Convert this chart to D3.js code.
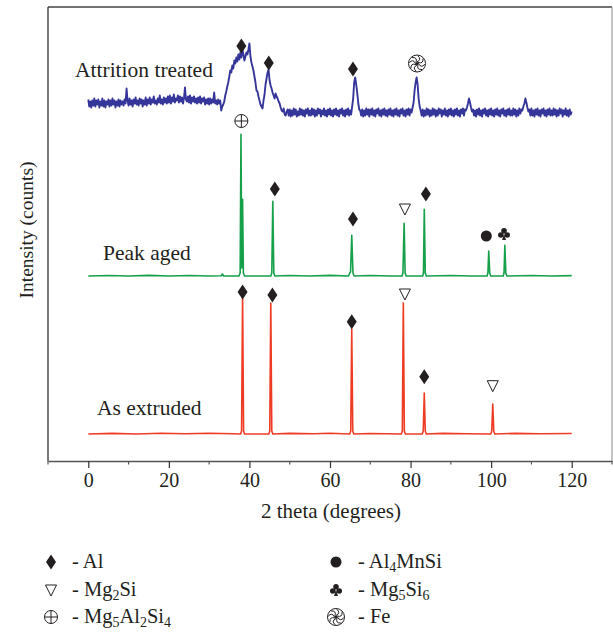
<!DOCTYPE html>
<html>
<head>
<meta charset="utf-8">
<script src="https://cdn.jsdelivr.net/npm/d3@7"></script>
<style>
  html, body { margin: 0; padding: 0; background: #fff; }
  svg { display: block; font-family: "Liberation Serif", "DejaVu Serif", serif; }
</style>
</head>
<body>
<svg id="chart" width="613" height="632"></svg>
<script>
// ---- Data -------------------------------------------------------------
// 2-theta axis ticks
const majorTicks = [0, 20, 40, 60, 80, 100, 120];
const minorTicks = [-10, 10, 30, 50, 70, 90, 110, 130];

// Vertical offsets (a.u.) of each stacked pattern
const extrudedOffset = 27;
const agedOffset = 185;
const attritionOffset = 348.5;

// As extruded pattern: [2theta, intensity above its baseline]
const extrudedPattern = [
  [0,0],[6,0.6],[12,0],[18,0.7],[24,0.2],[30,0.8],[36,0.2],
  [37.8,0],[38.05,3],[38.3,137.3],[38.55,3],[38.8,0],
  [44.8,0],[45.05,3],[45.3,131],[45.55,3],[45.8,0],
  [50,0.6],[56,0.2],[60,0.7],
  [64.9,0],[65.15,3],[65.4,105],[65.65,3],[65.9,0],
  [70,0.5],[74,0.2],
  [77.7,0],[77.95,3],[78.2,131],[78.45,3],[78.7,0],
  [82.9,0],[83.15,3],[83.4,41],[83.65,3],[83.9,0],
  [88,0.6],[94,0.2],
  [99.9,0],[100.15,3],[100.4,30],[100.65,3],[100.9,0],
  [106,0.6],[112,0.2],[120,0.5]
];

// Peak aged pattern
const agedPattern = [
  [0,0],[5,0.5],[10,0],[15,0.6],[20,0],[25,0.5],[30,0],
  [33,0.3],[33.3,2],[33.6,0],
  [37.4,0],[37.7,3],[37.9,141.7],[38.1,8],[38.3,76.7],[38.5,3],[38.8,0],
  [45.3,0],[45.55,3],[45.8,74.7],[46.05,3],[46.3,0],
  [50,0.5],[55,0],[60,0.6],
  [64.6,0],[64.9,3],[65.1,4],[65.4,40.7],[65.7,3],[66.0,0],
  [70,0.5],[75,0],
  [77.9,0],[78.1,3],[78.4,52.7],[78.65,3],[78.9,0],
  [83.0,0],[83.2,3],[83.4,66.7],[83.65,3],[83.9,0],
  [90,0.5],[95,0],
  [99.0,0],[99.2,3],[99.4,25],[99.65,3],[99.9,0],
  [103.0,0],[103.2,3],[103.4,30.7],[103.65,3],[103.9,0],
  [110,0.5],[115,0],[120,0.4]
];

// Attrition treated pattern, sampled every 0.25 degrees from 0 to 120
const attritionStart = 0;
const attritionStep = 0.25;
const attritionCounts = [
  13,6,11,5,12,7,14,6,12,8,13,5,11,7,14,6,12,5,11,8,
  13,6,12,7,14,8,12,5,11,7,13,6,12,8,11,7,13,9,24,12,
  7,14,8,12,6,13,9,15,8,12,7,14,9,13,6,12,8,15,7,13,
  9,15,8,13,10,16,9,12,8,14,10,17,9,13,8,15,10,14,9,16,
  10,17,9,15,11,18,10,14,12,17,10,16,11,15,9,14,25,13,11,16,
  10,17,9,15,11,16,10,14,9,15,10,16,9,14,11,15,8,13,9,14,
  8,14,9,13,10,20,9,12,8,13,9,12,2,6,8,11,17,21,26,30,
  36,42,40,47,44,52,49,55,51,58,53,60,55,63,58,52,56,60,58,63,
  69,56,50,46,42,36,30,22,21,16,12,8,6,4,12,18,28,34,40,43,
  32,27,24,20,17,14,19,16,14,11,9,5,2,1,4,-2,-3,1,3,-3,
  3,-4,2,-3,4,-2,3,-4,1,-3,4,-2,3,-3,2,-4,3,-1,4,-3,
  2,-3,4,-2,3,-4,2,-3,4,-1,3,-4,2,-2,4,-3,2,-4,3,-2,
  4,-3,2,-4,3,-2,4,-3,2,-4,3,-1,4,-3,2,-4,3,-2,4,-3,
  2,-2,6,14,30,35,28,20,10,3,2,-3,3,-4,2,-3,4,-2,3,-4,
  3,-2,4,-3,2,-4,3,-1,4,-3,2,-4,3,-2,4,-3,2,-4,3,-2,
  4,-3,2,-4,3,-2,4,-3,2,-4,3,-1,4,-3,2,-4,3,-2,4,-3,
  3,0,5,10,22,30,35,28,14,6,2,-3,3,-4,2,-3,4,-2,3,-4,
  2,-3,4,-2,3,-4,2,-3,4,-1,3,-4,2,-2,4,-3,2,-4,3,-2,
  4,-3,2,-4,3,-2,4,-3,2,-4,3,-1,4,-3,3,2,5,9,14,10,
  5,1,3,-3,2,-4,3,-2,4,-3,2,-4,3,-1,4,-3,2,-4,3,-2,
  4,-3,2,-4,3,-2,4,-3,2,-4,3,-1,4,-3,2,-4,3,-2,4,-3,
  2,-3,4,-2,3,-4,2,-3,4,-1,3,2,6,9,14,10,5,1,3,-3,
  4,-3,2,-4,3,-2,4,-3,2,-4,3,-1,4,-3,2,-4,3,-2,4,-3,
  2,-3,4,-2,3,-4,2,-3,4,-1,3,-4,2,-2,4,-3,2,-4,3,-2,
  1
];

// Phase markers: [2theta, absolute intensity (a.u.), phase]
const attritionMarkers = [[38.0,415,"Al"],[44.8,398,"Al"],[65.7,392,"Al"],[81.6,397.5,"Fe"]];
const agedMarkers = [[38.0,340,"Mg5Al2Si4"],[46.3,272,"Al"],[65.7,242,"Al"],[78.6,252,"Mg2Si"],
                     [83.8,267,"Al"],[98.8,225,"Al4MnSi"],[103.2,227,"Mg5Si6"]];
const extrudedMarkers = [[38.3,169,"Al"],[45.7,166,"Al"],[65.4,139.3,"Al"],[78.6,167,"Mg2Si"],
                         [83.4,84.3,"Al"],[100.4,75.3,"Mg2Si"]];

// Legend entries
const legendLeft = ["Al", "Mg2Si", "Mg5Al2Si4"];
const legendRight = ["Al4MnSi", "Mg5Si6", "Fe"];

// Series labels
const seriesNames = ["Attrition treated", "Peak aged", "As extruded"];

// ---- Drawing -----------------------------------------------------------
const svg = d3.select("#chart");
const ink = "#231f20";
const plot = { left: 48, right: 612, top: 7, bottom: 461 };

const x = d3.scaleLinear().domain([-10, 130]).range([plot.left, plot.right]);
const y = d3.scaleLinear().domain([0, 454]).range([plot.bottom, plot.top]);

// Frame
svg.append("line").attr("x1", plot.left).attr("x2", plot.right).attr("y1", plot.top).attr("y2", plot.top)
  .attr("stroke", "#444").attr("stroke-width", 1.6);
svg.append("line").attr("x1", plot.right).attr("x2", plot.right).attr("y1", plot.top).attr("y2", plot.bottom)
  .attr("stroke", "#9a9a9a").attr("stroke-width", 1.2);
svg.append("line").attr("x1", plot.left).attr("x2", plot.left).attr("y1", plot.top).attr("y2", plot.bottom)
  .attr("stroke", "#333").attr("stroke-width", 1.3);

// Bottom axis with major and minor ticks
const xAxis = d3.axisBottom(x).tickValues(majorTicks).tickSize(7).tickSizeOuter(0).tickPadding(5);
const gx = svg.append("g").attr("transform", `translate(0,${plot.bottom})`).call(xAxis);
gx.select(".domain").attr("stroke", "#555").attr("stroke-width", 1.3);
gx.selectAll(".tick line").attr("stroke", "#333").attr("stroke-width", 1.2);
gx.selectAll(".tick text").attr("font-size", 20).attr("fill", ink)
  .attr("font-family", "Liberation Serif, serif");
gx.selectAll(".minor").data(minorTicks).enter().append("line")
  .attr("x1", d => x(d)).attr("x2", d => x(d)).attr("y1", 0).attr("y2", 3.5)
  .attr("stroke", "#555").attr("stroke-width", 1.2);

// Axis titles
svg.append("text").attr("x", 331).attr("y", 518).attr("text-anchor", "middle")
  .attr("font-size", 21).attr("fill", ink).text("2 theta (degrees)");
svg.append("text").attr("transform", "translate(33,230) rotate(-90)").attr("text-anchor", "middle")
  .attr("font-size", 19.5).attr("fill", ink).text("Intensity (counts)");

// Patterns
const line = d3.line().x(d => x(d[0])).y(d => y(d[1]));
const attritionPattern = attritionCounts.map((v, i) => [attritionStart + i * attritionStep, v]);

const series = [
  { data: attritionPattern, offset: attritionOffset, color: "#36369a", width: 1.9 },
  { data: agedPattern, offset: agedOffset, color: "#16a04a", width: 1.6 },
  { data: extrudedPattern, offset: extrudedOffset, color: "#ee3b24", width: 1.6 }
];
series.forEach(s => {
  svg.append("path")
    .datum(s.data.map(d => [d[0], d[1] + s.offset]))
    .attr("d", line).attr("fill", "none")
    .attr("stroke", s.color).attr("stroke-width", s.width).attr("stroke-linejoin", "round");
});

// Series labels
const labelPos = [[75, 77], [103, 260], [97, 415]];
seriesNames.forEach((n, i) => {
  svg.append("text").attr("x", labelPos[i][0]).attr("y", labelPos[i][1])
    .attr("font-size", 21.5).attr("fill", ink).text(n);
});

// Phase symbols
function drawSymbol(g, phase) {
  if (phase === "Al") {
    g.append("path").attr("d", "M0,-7.5L5,0L0,7.5L-5,0Z").attr("fill", ink);
  } else if (phase === "Mg2Si") {
    g.append("path").attr("d", "M-5.5,-5L5.5,-5L0,6Z").attr("fill", "none")
      .attr("stroke", ink).attr("stroke-width", 1);
  } else if (phase === "Mg5Al2Si4") {
    g.append("circle").attr("r", 6.5).attr("fill", "none").attr("stroke", ink).attr("stroke-width", 1);
    g.append("path").attr("d", "M-6.5,0H6.5M0,-6.5V6.5").attr("stroke", ink).attr("stroke-width", 1);
  } else if (phase === "Al4MnSi") {
    g.append("circle").attr("r", 5.5).attr("fill", ink);
  } else if (phase === "Mg5Si6") {
    g.append("circle").attr("cx", 0).attr("cy", -3.3).attr("r", 2.8).attr("fill", ink);
    g.append("circle").attr("cx", -3.2).attr("cy", 1).attr("r", 2.8).attr("fill", ink);
    g.append("circle").attr("cx", 3.2).attr("cy", 1).attr("r", 2.8).attr("fill", ink);
    g.append("path").attr("d", "M0,0L-2,6L2,6Z").attr("fill", ink);
  } else if (phase === "Fe") {
    g.append("circle").attr("r", 8.5).attr("fill", "#fff").attr("stroke", ink).attr("stroke-width", 1);
    const blades = d3.range(8).map(k => k * Math.PI / 4);
    blades.forEach(a => {
      const p = (r, t) => [r * Math.cos(t), r * Math.sin(t)];
      const s0 = p(1.5, a), c = p(6.5, a + 0.9), e = p(7.8, a + 0.1);
      g.append("path")
        .attr("d", `M${s0[0]},${s0[1]}Q${c[0]},${c[1]} ${e[0]},${e[1]}`)
        .attr("fill", "none").attr("stroke", ink).attr("stroke-width", 1);
    });
    g.append("circle").attr("r", 1.6).attr("fill", ink);
  }
}

[attritionMarkers, agedMarkers, extrudedMarkers].forEach(list => {
  list.forEach(m => {
    const g = svg.append("g").attr("transform", `translate(${x(m[0])},${y(m[1])})`);
    drawSymbol(g, m[2]);
  });
});

// Legend: chemical formulas with subscripted counts
function formula(textSel, name) {
  const parts = ["- "].concat(name.match(/[A-Z][a-z]?|\d+/g));
  let sub = false;
  parts.forEach(p => {
    const isNum = /^\d+$/.test(p);
    const t = textSel.append("tspan").text(p);
    if (isNum) {
      t.attr("font-size", 14);
      if (!sub) { t.attr("dy", 4); sub = true; }
    } else if (sub) {
      t.attr("dy", -4); sub = false;
    }
  });
}
const rowsY = [562, 590, 617];
[[legendLeft, 51, 72], [legendRight, 336, 358]].forEach(([names, sx, tx]) => {
  names.forEach((n, i) => {
    const g = svg.append("g").attr("transform", `translate(${sx},${rowsY[i]})`);
    drawSymbol(g, n);
    const t = svg.append("text").attr("x", tx).attr("y", rowsY[i] + 6)
      .attr("font-size", 20.5).attr("fill", ink);
    formula(t, n);
  });
});
</script>
</body>
</html>
